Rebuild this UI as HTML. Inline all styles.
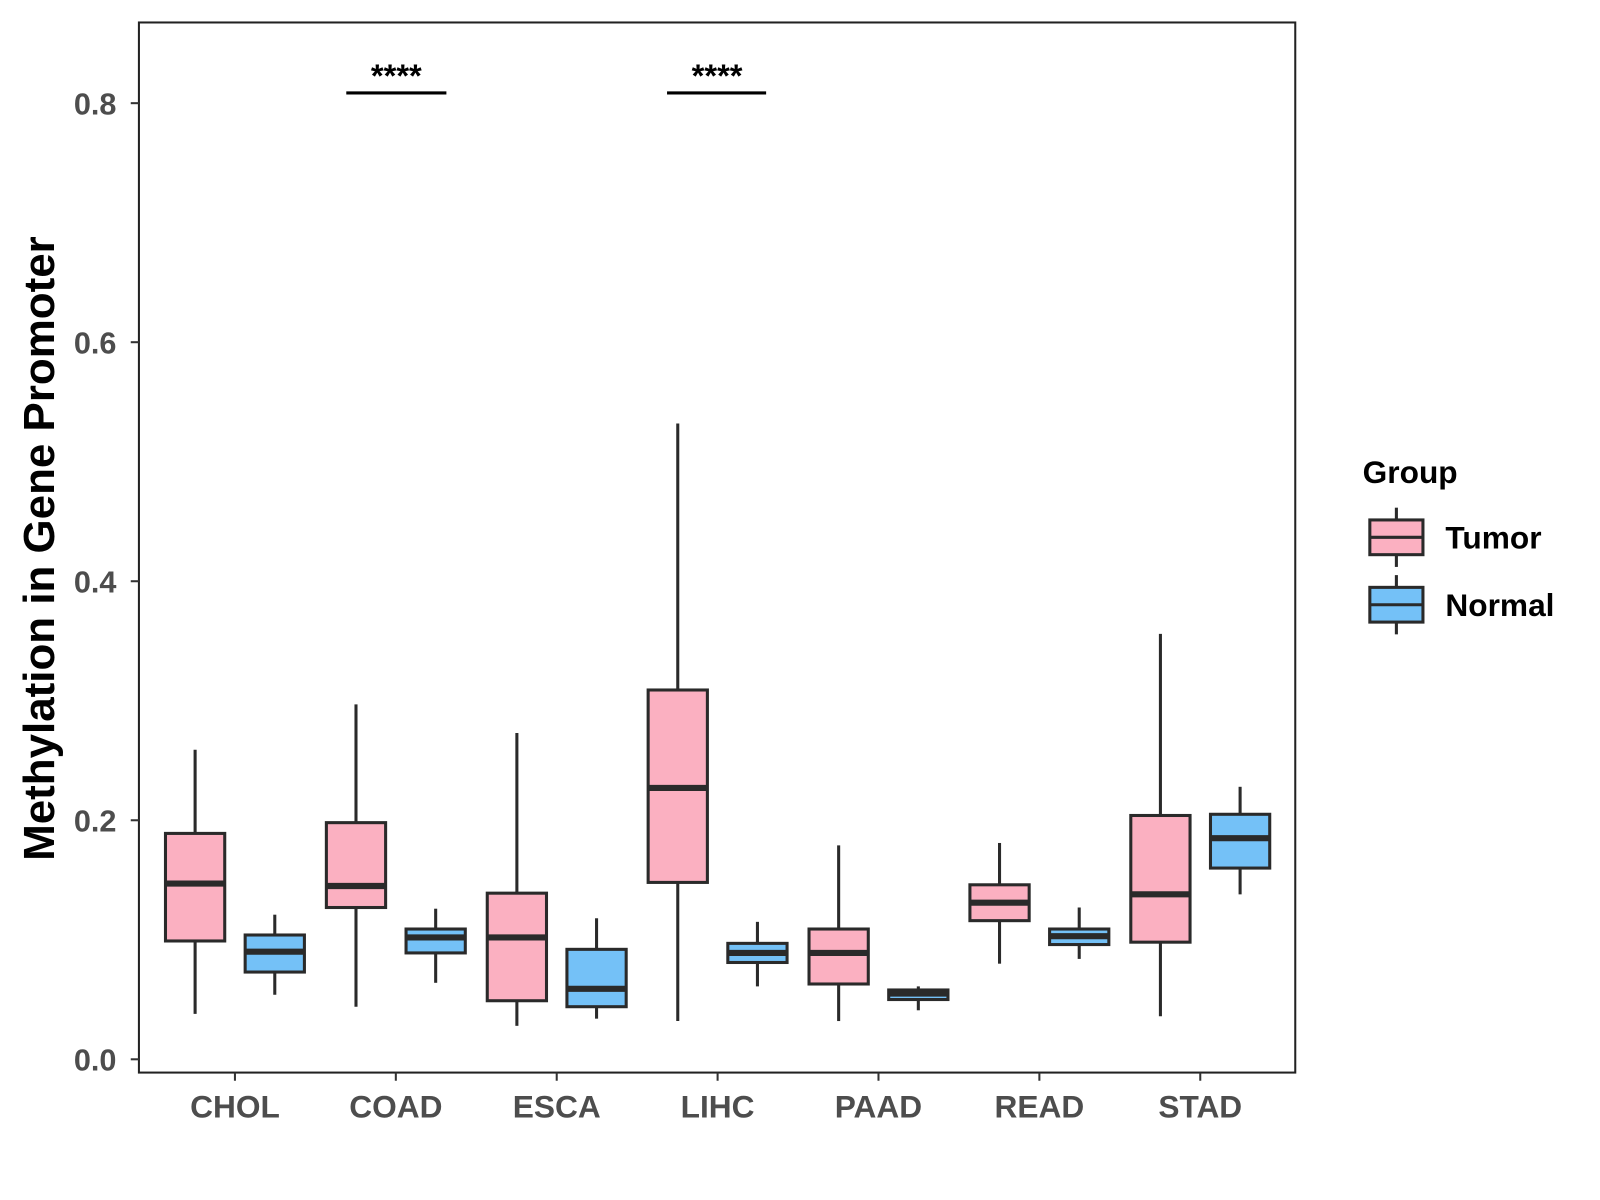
<!DOCTYPE html>
<html><head><meta charset="utf-8"><style>
html,body{margin:0;padding:0;background:#fff;}
svg{display:block;font-family:"Liberation Sans",Arial,sans-serif;}
</style></head><body>
<svg id="chart" width="1600" height="1200" viewBox="0 0 1600 1200">
<g transform="scale(1.0215)">
<rect x="136" y="22" width="1132" height="1028" fill="#fff" stroke="#222" stroke-width="2"/>
<g id="yaxis"></g>
<g id="xaxis"></g>
<g id="boxes"></g>
<text x="53" y="537" transform="rotate(-90 53 537)" text-anchor="middle" font-size="43" font-weight="bold" fill="#000">Methylation in Gene Promoter</text>
<g>
<line x1="339" y1="91" x2="437" y2="91" stroke="#000" stroke-width="3"/>
<text x="388" y="85" text-anchor="middle" font-size="32" font-weight="bold">****</text>
</g>
<g>
<line x1="653" y1="91" x2="750" y2="91" stroke="#000" stroke-width="3"/>
<text x="702" y="85" text-anchor="middle" font-size="32" font-weight="bold">****</text>
</g>
<g transform="translate(28,10)">
<text x="1306" y="463" font-size="31" font-weight="bold">Group</text>
<g>
<line x1="1339" y1="487" x2="1339" y2="545" stroke="#2a2a2a" stroke-width="3"/>
<rect x="1313" y="499" width="52" height="34" fill="#FBB0C1" stroke="#2a2a2a" stroke-width="3"/>
<line x1="1313" y1="516" x2="1365" y2="516" stroke="#2a2a2a" stroke-width="3"/>
<text x="1387" y="527" font-size="31" font-weight="bold">Tumor</text>
</g>
<g>
<line x1="1339" y1="553" x2="1339" y2="611" stroke="#2a2a2a" stroke-width="3"/>
<rect x="1313" y="565" width="52" height="34" fill="#74C1F7" stroke="#2a2a2a" stroke-width="3"/>
<line x1="1313" y1="582" x2="1365" y2="582" stroke="#2a2a2a" stroke-width="3"/>
<text x="1387" y="593" font-size="31" font-weight="bold">Normal</text>
</g>
</g>
</g>
</svg>
<script>
const categories = ["CHOL","COAD","ESCA","LIHC","PAAD","READ","STAD"];
const yTicks = [0.0,0.2,0.4,0.6,0.8];
const yTickLabels = ["0.0","0.2","0.4","0.6","0.8"];
// [low, q1, median, q3, high]
const tumorStats = [
 [0.038,0.099,0.147,0.189,0.259],
 [0.044,0.127,0.145,0.198,0.297],
 [0.028,0.049,0.102,0.139,0.273],
 [0.032,0.148,0.227,0.309,0.532],
 [0.032,0.063,0.089,0.109,0.179],
 [0.080,0.116,0.131,0.146,0.181],
 [0.036,0.098,0.138,0.204,0.356]
];
const normalStats = [
 [0.054,0.073,0.090,0.104,0.121],
 [0.064,0.089,0.102,0.109,0.126],
 [0.034,0.044,0.059,0.092,0.118],
 [0.061,0.081,0.089,0.097,0.115],
 [0.041,0.050,0.055,0.058,0.061],
 [0.084,0.096,0.103,0.109,0.127],
 [0.138,0.160,0.185,0.205,0.228]
];
const NS="http://www.w3.org/2000/svg";
function yS(v){return 1037 - v*1170;}
function xS(i){return 230 + i*157.5;}
function mk(tag,attrs,parent){const e=document.createElementNS(NS,tag);for(const k in attrs)e.setAttribute(k,attrs[k]);parent.appendChild(e);return e;}
const ya=document.getElementById('yaxis');
yTicks.forEach((t,i)=>{
 const l=mk('line',{x1:128,x2:136,y1:yS(t),y2:yS(t),stroke:'#333','stroke-width':2},ya);
 
 
 const tx=mk('text',{x:114,y:yS(t)+11,'text-anchor':'end','font-size':30,'font-weight':'bold',fill:'#4d4d4d'},ya);
 tx.textContent=yTickLabels[i];
 
 
});
const xa=document.getElementById('xaxis');
categories.forEach((c,i)=>{
 const l=mk('line',{x1:xS(i),x2:xS(i),y1:1050,y2:1058,stroke:'#333','stroke-width':2},xa);
 
 
 const tx=mk('text',{x:xS(i),y:1094,'text-anchor':'middle','font-size':31,'font-weight':'bold',fill:'#4d4d4d'},xa);
 tx.textContent=c;
 
 
});
const bg=document.getElementById('boxes');
function drawBox(s,cx,fill,name){
 const g=mk('g',{},bg);
 
 
 const w=58, st='#2a2a2a';
 mk('line',{x1:cx,x2:cx,y1:yS(s[4]),y2:yS(s[3]),stroke:st,'stroke-width':3},g);
 mk('line',{x1:cx,x2:cx,y1:yS(s[1]),y2:yS(s[0]),stroke:st,'stroke-width':3},g);
 mk('rect',{x:cx-w/2,y:yS(s[3]),width:w,height:Math.max(1,yS(s[1])-yS(s[3])),fill:fill,stroke:st,'stroke-width':3},g);
 mk('line',{x1:cx-w/2,x2:cx+w/2,y1:yS(s[2]),y2:yS(s[2]),stroke:st,'stroke-width':6},g);
}
categories.forEach((c,i)=>{
 drawBox(tumorStats[i],xS(i)-39,'#FBB0C1','box-tumor-'+c.toLowerCase());
 drawBox(normalStats[i],xS(i)+39,'#74C1F7','box-normal-'+c.toLowerCase());
});
</script>
</body></html>
